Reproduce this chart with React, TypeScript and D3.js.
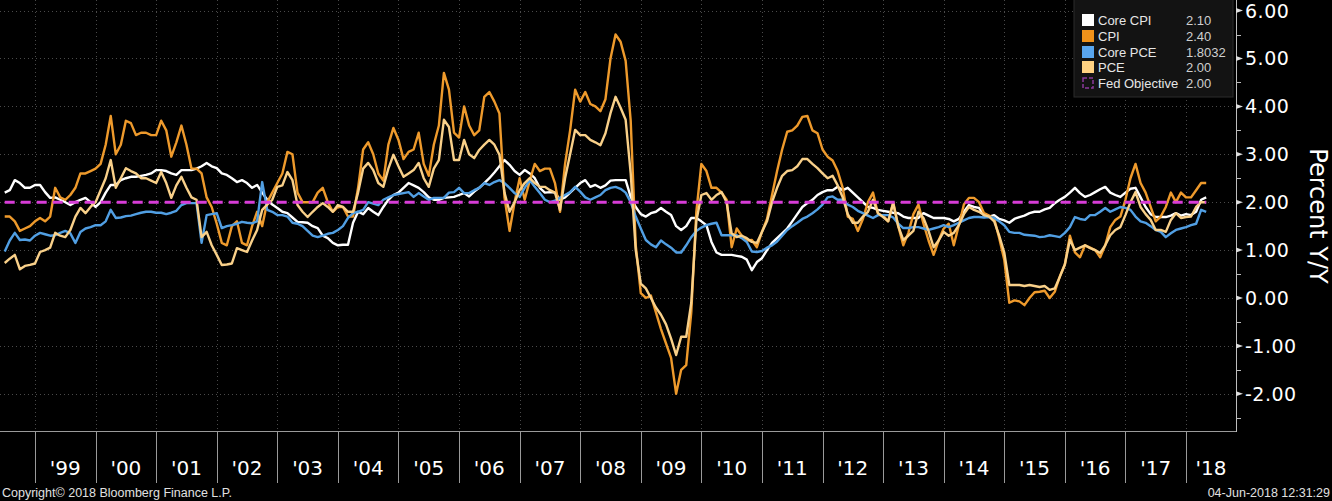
import React from "react";
import * as d3 from "d3";

// ---- DATA (monthly, Jun 1998 .. Apr 2018, year-over-year %) ----
const START_YEAR = 1998;
const START_MONTH = 6; // June 1998 (plotted at month end)

const yearTicks = [1999, 2000, 2001, 2002, 2003, 2004, 2005, 2006, 2007, 2008, 2009, 2010, 2011, 2012, 2013, 2014, 2015, 2016, 2017, 2018];
const yearLabels = ["'99", "'00", "'01", "'02", "'03", "'04", "'05", "'06", "'07", "'08", "'09", "'10", "'11", "'12", "'13", "'14", "'15", "'16", "'17", "'18"];
const yTicks = [6, 5, 4, 3, 2, 1, 0, -1, -2];
const yTickLabels = ["6.00", "5.00", "4.00", "3.00", "2.00", "1.00", "0.00", "-1.00", "-2.00"];

const coreCpi = [
  2.2, 2.25, 2.46, 2.4, 2.3, 2.3, 2.36,
  2.36, 2.21, 2.09, 2.1, 2.05, 2.0, 1.94, 2.0, 2.05, 2.09, 2.0, 1.9,
  2.0, 2.2, 2.36, 2.36, 2.46, 2.5, 2.53, 2.53, 2.55, 2.57, 2.6, 2.67,
  2.67, 2.65, 2.6, 2.57, 2.67, 2.67, 2.67, 2.7, 2.75, 2.82, 2.75, 2.71,
  2.6, 2.57, 2.5, 2.42, 2.46, 2.4, 2.3, 2.36, 2.2, 2.05, 1.95, 1.88,
  1.8, 1.77, 1.68, 1.59, 1.58, 1.57, 1.5, 1.46, 1.3, 1.25, 1.15, 1.1,
  1.11, 1.11, 1.57, 1.8, 1.75, 1.88, 1.8, 1.73, 1.9, 2.05, 2.15, 2.2,
  2.3, 2.4, 2.35, 2.3, 2.21, 2.1, 2.05, 2.05, 2.09, 2.1, 2.11, 2.15,
  2.19, 2.12, 2.22, 2.3, 2.4, 2.5, 2.62, 2.75, 2.88, 2.78, 2.65, 2.57,
  2.67, 2.6, 2.5, 2.3, 2.2, 2.21, 2.2, 2.05, 2.1, 2.2, 2.3, 2.4,
  2.46, 2.32, 2.36, 2.3, 2.35, 2.45, 2.46, 2.46, 2.46, 2.11, 1.9, 1.75,
  1.7, 1.77, 1.8, 1.88, 1.8, 1.73, 1.5, 1.42, 1.5, 1.67, 1.67, 1.6,
  1.52, 1.17, 0.95, 0.9, 0.9, 0.9, 0.88, 0.86, 0.8, 0.58, 0.75, 0.83,
  1.0, 1.15, 1.25, 1.35, 1.45, 1.6, 1.75, 1.9, 1.98, 2.05, 2.15, 2.21,
  2.25, 2.25, 2.32, 2.25, 2.3, 2.2, 2.1, 2.0, 1.9, 1.88, 1.84, 1.82,
  1.8, 1.78, 1.77, 1.7, 1.67, 1.67, 1.67, 1.77, 1.72, 1.67, 1.67, 1.67,
  1.65, 1.6, 1.65, 1.8, 1.94, 1.9, 1.88, 1.72, 1.7, 1.73, 1.65, 1.62,
  1.57, 1.65, 1.69, 1.72, 1.77, 1.8, 1.8, 1.85, 1.88, 1.98, 2.05, 2.11,
  2.2, 2.3, 2.19, 2.11, 2.15, 2.21, 2.27, 2.32, 2.2, 2.15, 2.11, 2.2,
  2.28, 2.3, 2.1, 1.9, 1.75, 1.69, 1.69, 1.69, 1.72, 1.77, 1.72, 1.75,
  1.73, 1.8, 2.05, 2.1,
];

const cpi = [
  1.7, 1.7, 1.6, 1.4, 1.45, 1.5, 1.6,
  1.67, 1.6, 1.7, 2.3, 2.1, 2.05, 2.15, 2.3, 2.6, 2.6, 2.65, 2.7,
  2.8, 3.2, 3.8, 3.0, 3.2, 3.7, 3.65, 3.4, 3.45, 3.45, 3.4, 3.4,
  3.7, 3.5, 2.95, 3.25, 3.6, 3.2, 2.7, 2.7, 2.6, 2.1, 1.9, 1.55,
  1.15, 1.1, 1.5, 1.6, 1.15, 1.1, 1.5, 1.8, 1.5, 2.0, 2.2, 2.4,
  2.6, 3.05, 3.0, 2.2, 2.0, 2.0, 2.0, 2.2, 2.3, 2.0, 1.8, 1.9,
  1.9, 1.7, 1.7, 2.3, 3.1, 3.25, 3.0, 2.6, 2.45, 3.2, 3.55, 3.3,
  2.9, 3.05, 3.1, 3.45, 2.8, 2.55, 3.2, 3.6, 4.7, 4.35, 3.45, 3.35,
  4.0, 3.6, 3.4, 3.5, 4.2, 4.3, 4.1, 3.85, 2.1, 1.4, 2.0, 2.5,
  2.05, 2.45, 2.8, 2.65, 2.7, 2.7, 2.4, 1.8, 2.8, 3.5, 4.35, 4.1,
  4.3, 4.05, 4.0, 3.9, 4.15, 5.0, 5.5, 5.35, 4.95, 3.7, 1.1, 0.1,
  0.0, 0.05, -0.3, -0.65, -0.95, -1.25, -2.0, -1.5, -1.4, -0.3, 1.8, 2.8,
  2.65, 2.3, 2.3, 2.2, 2.05, 1.06, 1.45, 1.3, 1.2, 1.21, 1.06, 1.38,
  1.65, 2.15, 2.65, 3.1, 3.47, 3.5, 3.6, 3.78, 3.8, 3.5, 3.44, 3.1,
  2.95, 2.87, 2.65, 2.3, 1.7, 1.65, 1.4, 1.65, 2.0, 2.2, 1.75, 1.72,
  1.6, 2.0, 1.5, 1.1, 1.36, 1.75, 1.95, 1.55, 1.2, 0.9, 1.2, 1.45,
  1.55, 1.1, 1.52, 1.95, 2.09, 2.09, 2.0, 1.77, 1.72, 1.66, 1.25, 0.8,
  -0.1, -0.05, -0.07, -0.15, 0.0, 0.12, 0.13, 0.15, 0.0, 0.13, 0.45, 0.7,
  1.3, 0.95, 0.85, 1.1, 1.05, 1.0, 0.85, 1.1, 1.48, 1.63, 1.7, 2.05,
  2.5, 2.8, 2.4, 2.2, 1.9, 1.6, 1.7, 1.9, 2.2, 2.0, 2.2, 2.1,
  2.1, 2.25, 2.4, 2.4,
];

const corePce = [
  0.97, 1.2, 1.36, 1.21, 1.22, 1.2, 1.3,
  1.36, 1.33, 1.3, 1.31, 1.36, 1.4, 1.35, 1.15, 1.38, 1.45, 1.48, 1.52,
  1.52, 1.6, 1.84, 1.67, 1.68, 1.71, 1.72, 1.75, 1.78, 1.8, 1.8, 1.78,
  1.78, 1.75, 1.78, 1.82, 1.94, 1.98, 1.98, 1.98, 1.15, 1.73, 1.75, 1.77,
  1.46, 1.5, 1.52, 1.55, 1.59, 1.57, 1.56, 1.6, 2.42, 1.84, 1.8, 1.73,
  1.73, 1.7, 1.57, 1.55, 1.5, 1.4, 1.3, 1.27, 1.3, 1.34, 1.36, 1.42,
  1.5, 1.67, 1.77, 1.8, 1.84, 2.0, 1.97, 1.94, 2.05, 2.1, 2.15, 2.17,
  2.19, 2.21, 2.11, 2.19, 2.12, 2.05, 2.09, 2.09, 2.09, 2.2, 2.21, 2.3,
  2.19, 2.19, 2.25, 2.3, 2.4, 2.36, 2.42, 2.46, 2.4, 2.3, 2.19, 2.11,
  2.3, 2.46, 2.32, 2.19, 2.05, 2.0, 2.03, 2.09, 2.15, 2.21, 2.32, 2.22,
  2.1, 2.05, 2.1, 2.15, 2.25, 2.3, 2.32, 2.28, 2.2, 2.0, 1.7, 1.45,
  1.21, 1.12, 1.06, 1.2, 1.12, 1.05, 0.95, 0.95, 1.1, 1.27, 1.4, 1.47,
  1.52, 1.55, 1.57, 1.31, 1.31, 1.31, 1.31, 1.25, 1.17, 0.97, 0.96, 0.98,
  1.05, 1.1, 1.18, 1.3, 1.42, 1.5, 1.57, 1.65, 1.7, 1.77, 1.85, 1.95,
  2.1, 2.12, 2.05, 2.05, 1.95, 1.9, 1.82, 1.77, 1.72, 1.67, 1.73, 1.73,
  1.73, 1.68, 1.55, 1.46, 1.46, 1.48, 1.48, 1.45, 1.42, 1.45, 1.48, 1.52,
  1.48, 1.52, 1.57, 1.62, 1.67, 1.69, 1.69, 1.68, 1.69, 1.67, 1.6, 1.52,
  1.38, 1.36, 1.36, 1.32, 1.31, 1.3, 1.27, 1.28, 1.31, 1.29, 1.27, 1.36,
  1.48, 1.69, 1.65, 1.63, 1.73, 1.73, 1.8, 1.88, 1.8, 1.85, 1.9, 1.88,
  1.84, 1.7, 1.6, 1.57, 1.5, 1.42, 1.38, 1.27, 1.35, 1.42, 1.45, 1.48,
  1.52, 1.55, 1.84, 1.8,
];

const pce = [
  0.73, 0.82, 0.9, 0.6, 0.67, 0.69, 0.72,
  0.96, 1.0, 1.05, 1.36, 1.3, 1.27, 1.42, 1.7, 1.88, 1.77, 1.9, 2.0,
  2.25, 2.5, 2.88, 2.3, 2.5, 2.71, 2.65, 2.6, 2.5, 2.5, 2.45, 2.4,
  2.63, 2.4, 2.09, 2.35, 2.53, 2.3, 2.1, 2.05, 1.27, 1.38, 1.1, 0.9,
  0.69, 0.7, 0.72, 1.04, 1.0, 0.96, 1.2, 1.42, 1.84, 1.95, 2.05, 2.32,
  2.35, 2.63, 2.46, 1.94, 1.8, 1.69, 1.8, 1.9, 1.98, 1.9, 1.8, 1.94,
  1.9, 1.8, 1.8, 2.2, 2.7, 2.82, 2.67, 2.4, 2.32, 2.7, 2.99, 2.75,
  2.53, 2.6, 2.67, 2.82, 2.5, 2.32, 2.7, 2.88, 3.72, 3.57, 2.88, 2.88,
  3.3, 3.0, 2.92, 3.09, 3.2, 3.3, 3.2, 2.99, 2.2, 1.8, 2.0, 2.25,
  2.4, 2.5, 2.4, 2.32, 2.32, 2.25, 2.2, 1.84, 2.5, 3.0, 3.51, 3.4,
  3.4, 3.3, 3.25, 3.19, 3.44, 3.86, 4.2, 3.97, 3.72, 2.6, 1.0, 0.3,
  0.2, 0.0, -0.2, -0.35, -0.55, -0.85, -1.19, -0.81, -0.81, -0.1, 1.6, 2.15,
  2.19, 2.05, 2.15, 2.21, 2.0, 1.35, 1.27, 1.3, 1.25, 1.17, 1.15, 1.38,
  1.6, 2.0, 2.3, 2.55, 2.65, 2.67, 2.75, 2.9, 2.9, 2.8, 2.71, 2.6,
  2.5, 2.55, 2.35, 2.1, 1.75, 1.57, 1.57, 1.7, 1.8, 2.05, 1.77, 1.69,
  1.6, 1.98, 1.5, 1.21, 1.3, 1.4, 1.8, 1.67, 1.4, 1.06, 1.2, 1.38,
  1.3, 1.36, 1.52, 1.75, 1.9, 1.84, 1.8, 1.73, 1.7, 1.6, 1.3, 0.95,
  0.27, 0.27, 0.27, 0.25, 0.27, 0.25, 0.23, 0.25, 0.17, 0.2, 0.44, 0.7,
  1.21, 1.0, 1.05, 1.1, 1.04, 1.0, 0.94, 1.1, 1.31, 1.42, 1.48, 1.73,
  2.0, 2.21, 1.9, 1.75, 1.63, 1.42, 1.42, 1.38, 1.63, 1.77, 1.67, 1.69,
  1.7, 1.9, 2.0, 2.0,
];

const fedObjective = 2.0;

const seriesNames = ["Core CPI", "CPI", "Core PCE", "PCE", "Fed Objective"];
const seriesLast = ["2.10", "2.40", "1.8032", "2.00", "2.00"];

// ---- STYLE ----
const COLORS = ["#ffffff", "#ee9a2c", "#519fe3", "#f9d089", "#d73cd7"];
const LEGEND_SWATCH = ["#ffffff", "#f0921a", "#58a6f0", "#ffd282", "#8b3a9c"];
const SANS = '"Liberation Sans", Arial, sans-serif';
const AXIS_FONT = '"DejaVu Sans", "Noto Sans", sans-serif';

const PLOT_RIGHT = 1236;
const PLOT_BOTTOM = 431;

export default function App() {
  const x = d3.scaleLinear().domain([1998.4222, 2018.8254]).range([0, PLOT_RIGHT]);
  const y = d3.scaleLinear().domain([-2.777, 6.221]).range([PLOT_BOTTOM, 0]);
  const tOf = (i: number) => START_YEAR + (START_MONTH + i) / 12;

  const line = d3
    .line<number>()
    .x((_, i) => x(tOf(i)))
    .y((d) => y(d));

  const series = [coreCpi, cpi, corePce, pce];
  const n = coreCpi.length;

  const minorTicks = d3.range(-2.5, 6.5, 1);

  const legendX = 1074;
  const legendRows = [20, 36, 52, 67, 83];

  return (
    <div style={{ position: "fixed", left: 0, top: 0, width: 1332, height: 501, background: "#000" }}>
      <svg width={1332} height={501} style={{ display: "block" }}>
        <rect x={0} y={0} width={1332} height={501} fill="#000" />

        {/* grid */}
        <g stroke="#4a4a4a" strokeWidth={1} strokeDasharray="1,3">
          {yTicks.map((v) => (
            <line key={"h" + v} x1={0} x2={PLOT_RIGHT} y1={Math.round(y(v)) + 0.5} y2={Math.round(y(v)) + 0.5} />
          ))}
          {yearTicks.map((yr) => (
            <line key={"v" + yr} x1={Math.round(x(yr)) + 0.5} x2={Math.round(x(yr)) + 0.5} y1={0} y2={PLOT_BOTTOM} />
          ))}
        </g>

        {/* series */}
        {series.map((s, k) => (
          <path
            key={k}
            d={line(s) || ""}
            fill="none"
            stroke={COLORS[k]}
            strokeWidth={2.4}
            strokeLinejoin="round"
          />
        ))}

        {/* Fed objective */}
        <line
          x1={x(tOf(0))}
          x2={x(tOf(n - 1))}
          y1={y(fedObjective)}
          y2={y(fedObjective)}
          stroke={COLORS[4]}
          strokeWidth={3}
          strokeDasharray="10,6"
        />

        {/* frame / x axis */}
        <line x1={0} x2={PLOT_RIGHT} y1={PLOT_BOTTOM + 0.5} y2={PLOT_BOTTOM + 0.5} stroke="#9a9a9a" strokeWidth={1} />
        {yearTicks.map((yr) => (
          <line
            key={"s" + yr}
            x1={Math.round(x(yr)) + 0.5}
            x2={Math.round(x(yr)) + 0.5}
            y1={PLOT_BOTTOM}
            y2={483}
            stroke="#9a9a9a"
            strokeWidth={1}
          />
        ))}
        {yearTicks.map((yr, i) => {
          const next = i + 1 < yearTicks.length ? x(yearTicks[i + 1]) : PLOT_RIGHT;
          return (
            <text
              key={"l" + yr}
              x={(x(yr) + next) / 2}
              y={475}
              fill="#ffffff"
              fontFamily={AXIS_FONT}
              fontSize={20}
              textAnchor="middle"
            >
              {yearLabels[i]}
            </text>
          );
        })}

        {/* y axis (right) */}
        <line x1={PLOT_RIGHT + 0.5} x2={PLOT_RIGHT + 0.5} y1={0} y2={PLOT_BOTTOM + 1} stroke="#bdbdbd" strokeWidth={1} />
        {minorTicks.map((v) => (
          <line key={"m" + v} x1={PLOT_RIGHT} x2={PLOT_RIGHT + 5} y1={Math.round(y(v)) + 0.5} y2={Math.round(y(v)) + 0.5} stroke="#bdbdbd" />
        ))}
        {yTicks.map((v, i) => (
          <g key={"t" + v}>
            <path
              d={`M${PLOT_RIGHT},${y(v) - 2.5} L${PLOT_RIGHT + 7},${y(v)} L${PLOT_RIGHT},${y(v) + 2.5} Z`}
              fill="#dddddd"
            />
            <text
              x={PLOT_RIGHT + 9}
              y={y(v) + 7}
              fill="#ffffff"
              fontFamily={AXIS_FONT}
              fontSize={19}
              letterSpacing={0.5}
            >
              {yTickLabels[i]}
            </text>
          </g>
        ))}
        <text
          transform={`translate(1310, 216) rotate(90)`}
          fill="#ffffff"
          fontFamily={AXIS_FONT}
          fontSize={24}
          textAnchor="middle"
        >
          Percent Y/Y
        </text>

        {/* legend */}
        <rect x={legendX} y={-1} width={159} height={98} fill="#131313" stroke="#2c2c2c" strokeWidth={1} />
        {seriesNames.map((name, i) => (
          <g key={"lg" + i}>
            {i < 4 ? (
              <rect x={legendX + 8} y={legendRows[i] - 6} width={12} height={12} fill={LEGEND_SWATCH[i]} />
            ) : (
              <rect
                x={legendX + 9}
                y={legendRows[i] - 5}
                width={10}
                height={10}
                fill="none"
                stroke={LEGEND_SWATCH[i]}
                strokeWidth={1.5}
                strokeDasharray="4,2"
              />
            )}
            <text x={legendX + 24} y={legendRows[i] + 5} fill="#e6e6e6" fontFamily={SANS} fontSize={13}>
              {name}
            </text>
            <text x={legendX + 112} y={legendRows[i] + 5} fill="#cfcfcf" fontFamily={SANS} fontSize={13}>
              {seriesLast[i]}
            </text>
          </g>
        ))}

        {/* footer */}
        <text x={2} y={497} fill="#e0e0e0" fontFamily={SANS} fontSize={12.5}>
          Copyright© 2018 Bloomberg Finance L.P.
        </text>
        <text x={1330} y={497} fill="#e0e0e0" fontFamily={SANS} fontSize={12.5} textAnchor="end">
          04-Jun-2018 12:31:29
        </text>
      </svg>
    </div>
  );
}
